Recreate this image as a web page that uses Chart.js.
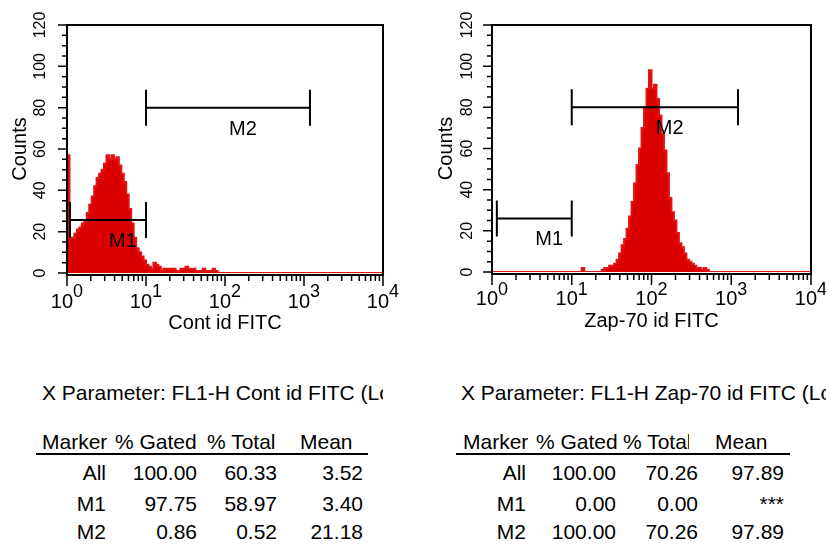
<!DOCTYPE html>
<html>
<head>
<meta charset="utf-8">
<script src="https://cdn.jsdelivr.net/npm/chart.js@4.4.1/dist/chart.umd.min.js"></script>
<style>
  html, body { margin: 0; padding: 0; background: #fff; }
  body { width: 826px; height: 544px; position: relative; overflow: hidden;
         font-family: "Liberation Sans", Arial, sans-serif; color: #000; }
  canvas.plot { position: absolute; top: 0; }
  .cell { position: absolute; white-space: nowrap; overflow: hidden;
          font-size: 21px; line-height: 24px; height: 24px; }
  .num { text-align: right; }
  .rule { position: absolute; height: 2px; background: #000; }
</style>
</head>
<body>
<canvas id="contPlot" class="plot" width="413" height="350" style="left:0"></canvas>
<canvas id="zapPlot" class="plot" width="413" height="350" style="left:413px"></canvas>
<div id="stats"></div>
<script>
// ---- histogram data: counts per channel, 32 channels per decade, 10^0 .. 10^4 ----
const CHANNELS_PER_DECADE = 32;

const contCounts = [
  57, 17, 17, 19, 21, 22, 24, 25, 29, 33,
  37, 42, 46, 48, 50, 53, 57, 55, 57, 55,
  56, 52, 48, 44, 38, 31, 24, 17, 12, 10,
   8,  6,  4,  3,  2,  5,  4,  3,  1,  2,
   2,  2,  2,  2,  1,  1,  2,  2,  3,  2,
   2,  2,  1,  1,  1,  2,  1,  1,  1,  2,
   1,  0,  0,  0,  0,  0,  0,  0,  0,  0,
   0,  0,  0,  0,  0,  0,  0,  0,  0,  0,
   0,  0,  0,  0,  0,  0,  0,  0,  0,  0,
   0,  0,  0,  0,  0,  0,  0,  0,  0,  0,
   0,  0,  0,  0,  0,  0,  0,  0,  0,  0,
   0,  0,  0,  0,  0,  0,  0,  0,  0,  0,
   0,  0,  0,  0,  0,  0,  0,  0
];

const zapCounts = [
   0,  0,  0,  0,  0,  0,  0,  0,  0,  0,
   0,  0,  0,  0,  0,  0,  0,  0,  0,  0,
   0,  0,  0,  0,  0,  0,  0,  0,  0,  0,
   0,  0,  0,  0,  0,  0,  2,  0,  0,  0,
   0,  0,  0,  0,  1,  2,  2,  3,  3,  4,
   6,  9, 13, 16, 21, 27, 34, 43, 52, 60,
  70, 80, 89, 98, 89, 91, 84, 76, 67, 59,
  48, 36, 29, 25, 19, 14, 12,  9,  6,  5,
   4,  3,  2,  2,  1,  2,  1,  0,  0,  0,
   0,  0,  0,  0,  0,  0,  0,  0,  0,  0,
   0,  0,  0,  0,  0,  0,  0,  0,  0,  0,
   0,  0,  0,  0,  0,  0,  0,  0,  0,  0,
   0,  0,  0,  0,  0,  0,  0,  0
];

// marker gates (channel values)
const contGates = [ { name: 'M1', from: 1.09, to: 10 }, { name: 'M2', from: 10, to: 1190 } ];
const zapGates  = [ { name: 'M1', from: 1.15, to: 10 }, { name: 'M2', from: 10, to: 1215 } ];

// axis ticks
const decadeExponents = [0, 1, 2, 3, 4];
const countTicks = [0, 20, 40, 60, 80, 100, 120];
const COUNT_MINOR_STEP = 5;

// statistics tables
const statHeaders  = ['Marker', '% Gated', '% Total', 'Mean'];
const markerNames  = ['All', 'M1', 'M2'];
const contGated    = ['100.00', '97.75', '0.86'];
const contTotal    = ['60.33', '58.97', '0.52'];
const contMean     = ['3.52', '3.40', '21.18'];
const zapGated     = ['100.00', '0.00', '100.00'];
const zapTotal     = ['70.26', '0.00', '70.26'];
const zapMean      = ['97.89', '***', '97.89'];

const FONT = '"Liberation Sans", Arial, sans-serif';
const RED = 'rgb(218,0,0)';

// ---- axes, frame and marker drawing ----
const flowAxes = {
  id: 'flowAxes',
  afterDatasetsDraw(chart, args, opts) {
    const { ctx, chartArea: a, scales: { x, y } } = chart;
    ctx.save();
    ctx.strokeStyle = '#000';
    ctx.fillStyle = '#000';

    // frame
    ctx.lineWidth = 2;
    ctx.strokeRect(a.left, a.top, a.right - a.left, a.bottom - a.top + 2);

    // x ticks: decades long, 2..9 short
    ctx.lineWidth = 1.5;
    ctx.beginPath();
    for (const e of decadeExponents) {
      for (let k = 1; k <= 9; k++) {
        if (e === decadeExponents[decadeExponents.length - 1] && k > 1) break;
        const px = x.getPixelForValue(k * Math.pow(10, e));
        const len = k === 1 ? 11 : 6;
        ctx.moveTo(px, a.bottom + 2);
        ctx.lineTo(px, a.bottom + 2 + len);
      }
    }
    // y ticks
    const yMax = countTicks[countTicks.length - 1];
    for (let v = 0; v <= yMax; v += COUNT_MINOR_STEP) {
      const py = y.getPixelForValue(v);
      const len = countTicks.includes(v) ? 9 : 5;
      ctx.moveTo(a.left - len, py);
      ctx.lineTo(a.left, py);
    }
    ctx.stroke();

    // x tick labels 10^n
    ctx.textAlign = 'left';
    ctx.textBaseline = 'alphabetic';
    for (const e of decadeExponents) {
      const px = x.getPixelForValue(Math.pow(10, e));
      ctx.font = '20px ' + FONT;
      const wBase = ctx.measureText('10').width;
      ctx.font = '18px ' + FONT;
      const wExp = ctx.measureText(String(e)).width;
      const start = px - (wBase + wExp) / 2;
      ctx.font = '20px ' + FONT;
      ctx.fillText('10', start, a.bottom + opts.baseDrop);
      ctx.font = '18px ' + FONT;
      ctx.fillText(String(e), start + wBase, a.bottom + opts.expDrop);
    }

    // y tick labels, rotated
    ctx.font = '16px ' + FONT;
    ctx.textAlign = 'center';
    ctx.textBaseline = 'middle';
    for (const v of countTicks) {
      const py = y.getPixelForValue(v);
      ctx.save();
      ctx.translate(a.left - opts.yLabelGap, py);
      ctx.rotate(-Math.PI / 2);
      ctx.fillText(String(v), 0, 0);
      ctx.restore();
    }

    // markers
    ctx.lineWidth = 2;
    ctx.font = '20px ' + FONT;
    ctx.textAlign = 'left';
    ctx.textBaseline = 'alphabetic';
    for (const g of opts.gates) {
      const x0 = x.getPixelForValue(g.from);
      const x1 = x.getPixelForValue(g.to);
      const py = y.getPixelForValue(opts.levels[g.name]);
      ctx.beginPath();
      ctx.moveTo(x0, py); ctx.lineTo(x1, py);
      ctx.moveTo(x0, py - 18); ctx.lineTo(x0, py + 18);
      ctx.moveTo(x1, py - 18); ctx.lineTo(x1, py + 18);
      ctx.stroke();
      ctx.fillText(g.name, (x0 + x1) / 2 + 1, py + 27);
    }
    ctx.restore();
  }
};

function makePlot(canvasId, counts, gates, cfg) {
  const pts = counts.map((c, i) => ({ x: Math.pow(10, i / CHANNELS_PER_DECADE), y: c }));
  pts.push({ x: Math.pow(10, counts.length / CHANNELS_PER_DECADE), y: counts[counts.length - 1] });
  const H = 350;
  return new Chart(document.getElementById(canvasId), {
    type: 'line',
    data: {
      datasets: [{
        data: pts,
        stepped: true,
        fill: 'origin',
        backgroundColor: RED,
        borderColor: 'rgb(226,20,20)',
        borderWidth: 2,
        pointRadius: 0,
        tension: 0
      }]
    },
    options: {
      responsive: false,
      animation: false,
      devicePixelRatio: 1,
      events: [],
      layout: { padding: { left: 0, right: cfg.padRight, top: 25, bottom: 0 } },
      plugins: {
        legend: { display: false },
        tooltip: { enabled: false },
        flowAxes: {
          gates: gates,
          levels: cfg.levels,
          yLabelGap: cfg.yLabelGap,
          baseDrop: cfg.baseDrop,
          expDrop: cfg.expDrop
        }
      },
      scales: {
        x: {
          type: 'logarithmic', min: 1, max: 10000,
          grid: { display: false }, border: { display: false },
          ticks: { display: false },
          title: { display: true, text: cfg.xTitle, color: '#000',
                   font: { family: FONT, size: 20 }, padding: { top: 0, bottom: cfg.xTitlePad } },
          afterFit: s => { s.height = H - cfg.bottom; }
        },
        y: {
          min: 0, max: 120,
          grid: { display: false }, border: { display: false },
          ticks: { display: false },
          title: { display: true, text: 'Counts', color: '#000',
                   font: { family: FONT, size: 20 }, padding: { top: cfg.yTitlePad, bottom: 0 } },
          afterFit: s => { s.width = cfg.axisWidth; }
        }
      }
    },
    plugins: [flowAxes]
  });
}

makePlot('contPlot', contCounts, contGates, {
  xTitle: 'Cont id FITC', padRight: 30, axisWidth: 67, bottom: 273,
  yTitlePad: 8, xTitlePad: 15, yLabelGap: 26, baseDrop: 35, expDrop: 24,
  levels: { M1: 25.6, M2: 80 }
});
makePlot('zapPlot', zapCounts, zapGates, {
  xTitle: 'Zap-70 id FITC', padRight: 15, axisWidth: 79, bottom: 272,
  yTitlePad: 21, xTitlePad: 17, yLabelGap: 24, baseDrop: 33, expDrop: 23,
  levels: { M1: 26, M2: 80 }
});

// ---- statistics tables ----
function addCell(parent, text, left, top, width, right) {
  const d = document.createElement('div');
  d.className = 'cell' + (right ? ' num' : '');
  d.textContent = text;
  d.style.left = left + 'px';
  d.style.top = top + 'px';
  if (width) d.style.width = width + 'px';
  parent.appendChild(d);
  return d;
}

function buildStats(title, gated, total, mean, L) {
  const root = document.getElementById('stats');
  addCell(root, title, L.titleLeft, 380.5, L.titleClip - L.titleLeft, false);
  const hdrTop = 429.5;
  statHeaders.forEach((h, c) => {
    addCell(root, h, L.headLefts[c], hdrTop, L.headWidths[c], false);
  });
  const rule = document.createElement('div');
  rule.className = 'rule';
  rule.style.left = L.rule[0] + 'px';
  rule.style.width = (L.rule[1] - L.rule[0]) + 'px';
  rule.style.top = '453px';
  root.appendChild(rule);
  const rowTops = [460.5, 491.5, 519.5];
  const cols = [markerNames, gated, total, mean];
  rowTops.forEach((t, r) => {
    cols.forEach((col, c) => {
      const w = 90;
      addCell(root, col[r], L.colRights[c] - w, t, w, true);
    });
  });
}

buildStats('X Parameter: FL1-H Cont id FITC (Log)', contGated, contTotal, contMean, {
  titleLeft: 42, titleClip: 383,
  headLefts: [42, 115, 207, 300],
  headWidths: [null, null, 72, null],
  colRights: [106, 197, 277, 363],
  rule: [36, 368]
});
buildStats('X Parameter: FL1-H Zap-70 id FITC (Log)', zapGated, zapTotal, zapMean, {
  titleLeft: 461, titleClip: 826,
  headLefts: [463, 536, 623, 715],
  headWidths: [null, null, 66, null],
  colRights: [526, 616, 698, 784],
  rule: [456, 790]
});
</script>
</body>
</html>
